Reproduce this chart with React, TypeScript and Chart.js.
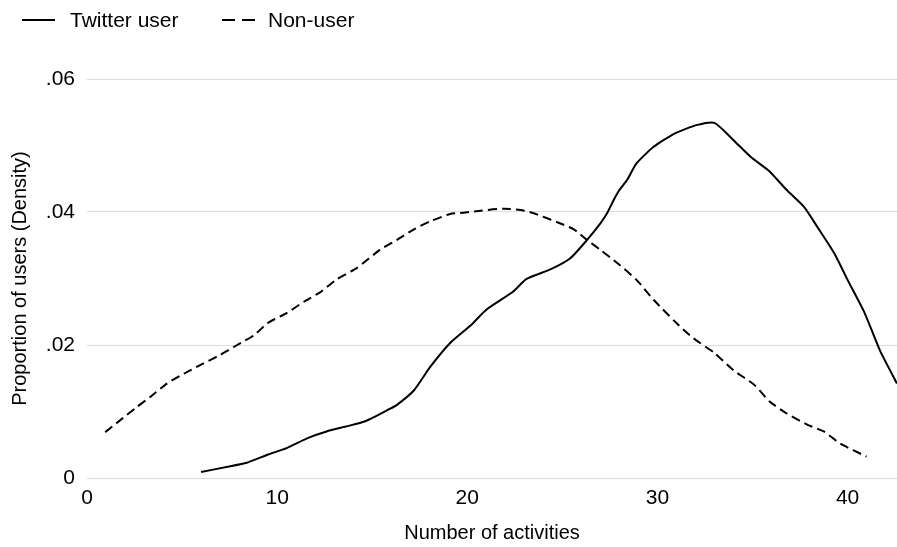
import React, { useEffect, useRef } from "react";
import { Chart, registerables } from "chart.js";

Chart.register(...registerables);

const twitterX = [6.0, 7.4, 8.4, 9.5, 10.5, 11.6, 12.6, 13.7, 14.6, 15.4, 15.8, 16.3, 17.2, 18.05, 19.1, 20.2, 21.0, 22.4, 23.1, 24.4, 25.4, 26.3, 27.0, 27.35, 27.7, 28.0, 28.4, 28.9, 29.8, 30.9, 32.1, 33.0, 34.0, 34.9, 35.9, 36.8, 37.7, 38.4, 39.3, 40.0, 40.9, 41.7, 42.6];
const twitterY = [0.0009, 0.0017, 0.0023, 0.0035, 0.0045, 0.006, 0.007, 0.0078, 0.0085, 0.0096, 0.0102, 0.011, 0.0132, 0.0167, 0.0203, 0.023, 0.0253, 0.028, 0.0299, 0.0314, 0.033, 0.0358, 0.0383, 0.0398, 0.0418, 0.0433, 0.0448, 0.0473, 0.0498, 0.0518, 0.0531, 0.0534, 0.0508, 0.0483, 0.0461, 0.0433, 0.0408, 0.0378, 0.0338, 0.0298, 0.0248, 0.0192, 0.0142];

const nonUserX = [0.96, 1.75, 2.63, 3.33, 4.2, 5.1, 6.1, 7.0, 7.9, 8.8, 9.5, 10.5, 11.4, 12.3, 13.1, 14.2, 15.4, 16.3, 17.2, 18.05, 19.1, 19.8, 20.7, 21.9, 23.0, 23.7, 24.7, 25.6, 26.3, 27.0, 27.9, 28.9, 29.8, 31.0, 31.9, 33.0, 34.0, 35.1, 35.9, 36.8, 37.9, 38.75, 39.6, 41.0];
const nonUserY = [0.0069, 0.0087, 0.0107, 0.0122, 0.0142, 0.0157, 0.0172, 0.0185, 0.02, 0.0215, 0.0233, 0.0248, 0.0265, 0.028, 0.0298, 0.0316, 0.0343, 0.0358, 0.0374, 0.0386, 0.0397, 0.0399, 0.0402, 0.0405, 0.0402, 0.0396, 0.0385, 0.0374, 0.0358, 0.0343, 0.0323, 0.0298, 0.0268, 0.0233, 0.021, 0.0188, 0.0162, 0.014, 0.0115, 0.0097, 0.008, 0.007, 0.0052, 0.0032];

const xTicks = [0, 10, 20, 30, 40];
const yTicks = [0, 0.02, 0.04, 0.06];
const yTickLabels = ["0", ".02", ".04", ".06"];
const seriesNames = ["Twitter user", "Non-user"];

const FONT = "'Liberation Sans', Arial, sans-serif";

export default function App() {
  const ref = useRef<HTMLCanvasElement | null>(null);

  useEffect(() => {
    if (!ref.current) return;
    const chart = new Chart(ref.current, {
      type: "line",
      data: {
        datasets: [
          {
            label: seriesNames[0],
            data: twitterX.map((x, i) => ({ x, y: twitterY[i] })),
            borderColor: "#000",
            borderWidth: 2,
            pointRadius: 0,
            tension: 0.2,
            fill: false,
          },
          {
            label: seriesNames[1],
            data: nonUserX.map((x, i) => ({ x, y: nonUserY[i] })),
            borderColor: "#000",
            borderWidth: 2,
            borderDash: [9, 5],
            pointRadius: 0,
            tension: 0.2,
            fill: false,
          },
        ],
      },
      options: {
        responsive: false,
        animation: false,
        layout: { padding: { top: 79, left: 0, right: 0, bottom: 0 } },
        plugins: { legend: { display: false }, tooltip: { enabled: false } },
        scales: {
          x: {
            type: "linear",
            min: 0,
            max: 42.6,
            afterBuildTicks: (scale: any) => {
              scale.ticks = xTicks.map((v) => ({ value: v }));
            },
            afterFit: (scale: any) => {
              scale.height = 69;
            },
            grid: { display: false, drawTicks: false },
            border: { display: false },
            ticks: {
              color: "#000",
              padding: 8,
              maxRotation: 0,
              font: { family: FONT, size: 21 },
              callback: (v: any) => String(v),
            },
            title: {
              display: true,
              text: "Number of activities",
              color: "#000",
              font: { family: FONT, size: 20 },
              padding: { top: 0, bottom: 2 },
            },
          },
          y: {
            type: "linear",
            min: 0,
            max: 0.06,
            afterBuildTicks: (scale: any) => {
              scale.ticks = yTicks.map((v) => ({ value: v }));
            },
            afterFit: (scale: any) => {
              scale.width = 87;
            },
            grid: { color: "#dcdcdc", lineWidth: 1, drawTicks: false },
            border: { display: false },
            ticks: {
              color: "#000",
              padding: 12,
              font: { family: FONT, size: 21 },
              callback: (v: any) => {
                const i = yTicks.findIndex((t) => Math.abs(t - v) < 1e-9);
                return i >= 0 ? yTickLabels[i] : "";
              },
            },
            title: {
              display: true,
              text: "Proportion of users (Density)",
              color: "#000",
              font: { family: FONT, size: 20 },
              padding: { top: 8, bottom: 0 },
            },
          },
        },
      },
    });
    return () => chart.destroy();
  }, []);

  const legendText: React.CSSProperties = {
    position: "absolute",
    top: 8,
    fontFamily: FONT,
    fontSize: 21,
    lineHeight: "24px",
    color: "#000",
    whiteSpace: "nowrap",
  };

  return (
    <div style={{ position: "fixed", left: 0, top: 0, width: 897, height: 547, background: "#fff" }}>
      <canvas ref={ref} width={897} height={547} style={{ position: "absolute", left: 0, top: 0 }} />
      <svg width={897} height={40} style={{ position: "absolute", left: 0, top: 0 }}>
        <line x1={22} y1={20} x2={55} y2={20} stroke="#000" strokeWidth={2} />
        <line x1={222} y1={20} x2={256} y2={20} stroke="#000" strokeWidth={2} strokeDasharray="13 7" />
      </svg>
      <div style={{ ...legendText, left: 70 }}>{seriesNames[0]}</div>
      <div style={{ ...legendText, left: 268 }}>{seriesNames[1]}</div>
    </div>
  );
}
